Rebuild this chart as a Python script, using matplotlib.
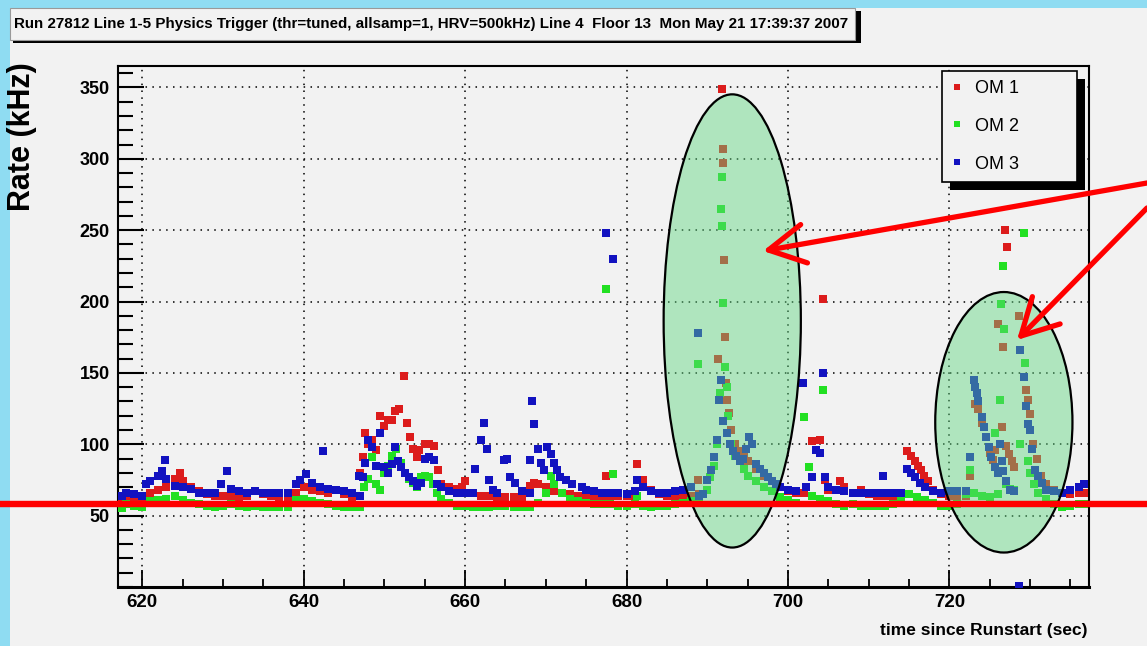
import matplotlib
matplotlib.use("Agg")
import matplotlib.pyplot as plt
import numpy as np
from matplotlib.patches import Ellipse, Rectangle
from matplotlib.lines import Line2D
from matplotlib.ticker import MultipleLocator

plt.rcParams['font.family'] = ['Liberation Sans', 'DejaVu Sans']

title = "Run 27812 Line 1-5 Physics Trigger (thr=tuned, allsamp=1, HRV=500kHz) Line 4  Floor 13  Mon May 21 17:39:37 2007"
series_names = ["OM 1", "OM 2", "OM 3"]
series_colors = ["#dc1c1c", "#22e022", "#1212c0"]

# (time [s], rate [kHz])
om1_points = [
    (617.5, 62), (618, 63), (619, 62), (620, 62), (621, 66), (622, 68), (623, 70), (624, 76),
    (624.7, 80), (625, 74), (626, 70), (627, 67), (628, 65), (629, 64), (630, 64), (631, 64),
    (632, 63), (633, 64), (634, 67), (635, 65), (636, 64), (637, 63), (638, 63), (639, 66),
    (640, 70), (641, 68), (642, 67), (643, 66), (644, 68), (645, 65), (646, 63), (647, 80),
    (647.3, 91), (647.6, 108), (648, 100), (648.5, 103), (649, 96), (649.5, 120), (650, 113),
    (650.5, 117), (651, 117), (651.3, 123), (651.8, 125), (652.4, 148), (652.8, 115),
    (653.2, 105), (653.6, 97), (654, 91), (654.3, 96), (655, 100), (655.5, 100), (656.2, 99),
    (656.6, 82), (657, 72), (658, 70), (659, 69), (659.6, 70), (660, 74), (661, 66), (662, 64),
    (663, 64), (664, 63), (665, 63), (666, 63), (667, 63), (668, 71), (668.5, 73), (669, 72),
    (670, 70), (671, 67), (672, 66), (673, 65), (674, 64), (675, 64), (676, 64), (677, 64),
    (677.4, 78), (678, 64), (679, 64), (680, 64), (681, 64), (681.3, 86), (682, 75), (683, 68),
    (684, 65), (685, 64), (686, 64), (687, 64), (688, 64), (688.8, 75), (689, 65), (690, 68),
    (691.2, 103), (691.3, 160), (691.8, 349), (691.9, 307), (692, 297), (692.1, 229),
    (692.2, 175), (692.3, 143), (692.5, 131), (692.7, 122), (693, 110), (693.5, 100),
    (694, 95), (694.5, 92), (695, 88), (696, 83), (697, 78), (698, 74), (699, 70), (700, 67),
    (701, 66), (702, 66), (703, 102), (704, 103), (704.3, 202), (704.6, 75), (705, 68),
    (706, 68), (706.5, 74), (707, 70), (708, 66), (709, 68), (710, 65), (711, 64), (712, 64),
    (713, 64), (714, 66), (714.8, 95), (715.3, 92), (715.7, 88), (716.1, 85), (716.5, 82),
    (716.9, 78), (717.4, 74), (718, 68), (719, 65), (720, 64), (721, 64), (722, 64),
    (722.6, 78), (723.2, 128), (723.5, 125), (724, 115), (725, 94), (725.4, 89), (725.6, 96),
    (726, 184), (726.5, 112), (726.7, 168), (726.9, 250), (727.1, 238), (727, 99), (727.4, 93),
    (727.7, 88), (728, 84), (728.6, 190), (729.5, 138), (729.8, 131), (730, 121), (730.4, 100),
    (730.8, 90), (731.3, 78), (732, 72), (733, 68), (734, 66), (735, 65), (736, 66), (736.7, 66),
]

om2_points = [
    (617.5, 55), (618, 58), (619, 57), (620, 56), (621, 60), (622, 61), (623, 62), (624, 64),
    (625, 61), (626, 59), (627, 58), (628, 57), (629, 56), (630, 57), (631, 58), (632, 57),
    (633, 56), (634, 57), (635, 56), (636, 56), (637, 56), (638, 56), (639, 61), (640, 62),
    (641, 60), (642, 59), (643, 58), (644, 57), (645, 56), (646, 56), (647, 56), (647.5, 70),
    (648, 76), (648.5, 91), (649, 72), (649.5, 68), (650, 80), (650.5, 85), (651, 92),
    (651.5, 97), (652, 87), (652.5, 80), (653, 76), (653.5, 73), (654, 70), (654.5, 77),
    (655, 78), (655.5, 77), (656, 72), (656.5, 66), (657, 62), (658, 59), (659, 57), (660, 57),
    (661, 56), (662, 56), (663, 56), (664, 57), (665, 57), (666, 56), (667, 56), (668, 56),
    (669, 59), (670, 66), (670.6, 78), (671, 72), (672, 66), (673, 62), (674, 60), (675, 59),
    (676, 58), (677, 58), (677.4, 209), (678, 58), (678.3, 79), (679, 57), (680, 57), (681, 58),
    (681.3, 64), (682, 57), (683, 56), (684, 57), (685, 57), (686, 58), (687, 59), (688, 60),
    (688.8, 156), (689, 61), (690, 68), (690.3, 77), (690.8, 85), (691.2, 100), (691.6, 136),
    (691.7, 265), (691.8, 287), (691.85, 253), (692, 199), (692.2, 154), (692.4, 140),
    (692.6, 120), (693, 100), (693.5, 92), (694, 88), (694.5, 83), (695, 78), (696, 74),
    (697, 70), (698, 67), (699, 63), (700, 61), (701, 59), (702, 119), (702.6, 84), (703, 64),
    (704, 62), (704.3, 138), (705, 60), (706, 58), (707, 57), (708, 58), (709, 57), (710, 57),
    (711, 57), (712, 57), (713, 58), (714, 61), (715, 65), (716, 63), (717, 61), (718, 59),
    (719, 57), (720, 57), (721, 58), (722, 65), (722.6, 82), (723, 66), (724, 64), (725, 63),
    (725.7, 108), (726, 65), (726.3, 131), (726.4, 198), (726.6, 225), (726.8, 181), (727, 72),
    (727.5, 69), (728, 68), (728.7, 100), (729.2, 248), (729.4, 157), (729.8, 88), (730, 80),
    (730.5, 72), (731, 66), (732, 62), (733, 58), (734, 56), (735, 57), (736, 58), (736.7, 58),
]

om3_points = [
    (617.5, 64), (618, 66), (619, 65), (620, 64), (620.5, 72), (621, 74), (622, 78), (622.5, 81),
    (622.8, 89), (623, 76), (624, 71), (625, 70), (626, 69), (627, 66), (628, 66), (629, 66),
    (629.7, 72), (630.5, 81), (631, 69), (632, 67), (633, 66), (634, 67), (635, 66), (636, 66),
    (637, 66), (638, 66), (639, 72), (639.5, 75), (640.3, 79), (641, 73), (642, 70), (642.4, 95),
    (643, 69), (644, 68), (645, 67), (646, 66), (646.8, 78), (647, 64), (647.3, 77), (647.6, 87),
    (648, 103), (648.5, 98), (649, 85), (649.5, 108), (650, 84), (650.5, 80), (651, 86),
    (651.3, 98), (651.7, 88), (652, 84), (652.5, 80), (653, 77), (653.5, 74), (654, 71),
    (654.5, 73), (655, 90), (655.5, 91), (656.2, 89), (656.5, 72), (657, 70), (658, 67),
    (659, 66), (660, 66), (661, 66), (661.2, 83), (662, 103), (662.3, 115), (662.7, 97),
    (663, 75), (663.5, 68), (664, 66), (664.8, 89), (665.2, 90), (665.6, 77), (666.2, 73),
    (667, 67), (668, 66), (668.1, 89), (668.3, 130), (668.6, 114), (669, 97), (669.4, 87),
    (669.8, 82), (670.2, 98), (670.6, 93), (671, 87), (671.4, 82), (671.8, 77), (672.5, 75),
    (673.3, 72), (674.5, 70), (675, 68), (676, 67), (677, 66), (677.4, 248), (678, 66),
    (678.3, 230), (679, 66), (680, 65), (681, 67), (681.3, 75), (682, 70), (683, 67), (684, 66),
    (685, 66), (686, 67), (687, 68), (688, 70), (688.8, 178), (689, 64), (689.5, 65), (690, 75),
    (690.5, 82), (690.8, 91), (691.2, 103), (691.5, 131), (691.7, 145), (692, 116),
    (692.4, 108), (692.8, 100), (693.2, 95), (693.6, 92), (694, 88), (694.4, 90), (694.8, 97),
    (695.2, 105), (695.6, 100), (696, 86), (696.5, 83), (697, 80), (697.5, 77), (698, 74),
    (698.5, 72), (699, 70), (700, 68), (701, 67), (701.9, 143), (702.3, 70), (703, 77),
    (703.5, 96), (704, 94), (704.3, 150), (704.6, 77), (705, 70), (706, 68), (707, 67),
    (708, 66), (709, 66), (710, 66), (711, 66), (711.8, 78), (712, 66), (713, 66), (714, 66),
    (714.8, 83), (715.3, 80), (715.8, 77), (716.4, 73), (717, 70), (718, 67), (719, 66),
    (720, 67), (721, 67), (722, 67), (722.6, 91), (723, 145), (723.2, 140), (723.4, 136),
    (723.6, 130), (724, 119), (724.3, 112), (724.6, 105), (724.9, 98), (725.2, 91), (725.6, 84),
    (726, 80), (726.3, 100), (726.5, 88), (726.7, 81), (727, 74), (727.5, 68), (728, 67),
    (728.6, 1), (728.7, 166), (729.3, 147), (729.5, 127), (729.8, 114), (730, 110), (730.3, 97),
    (730.6, 82), (731, 78), (731.5, 73), (732, 68), (733, 67), (734, 66), (735, 68), (736, 70),
    (736.7, 72),
]

W, H = 1147, 646


def fx(px):
    return px / W


def fy(py):
    return 1 - py / H


fig = plt.figure(figsize=(W / 100, H / 100), dpi=100, facecolor='#8fdcf2')
# light panel over the blue background
fig.add_artist(Rectangle((fx(10), 0), 1 - fx(10), fy(8), transform=fig.transFigure,
                         facecolor='#f2f2f2', edgecolor='none', zorder=0))

ax = fig.add_axes([fx(118), fy(587), fx(1089) - fx(118), fy(66) - fy(587)])
ax.set_facecolor('#f2f2f2')

for pts, name, col in zip([om1_points, om2_points, om3_points], series_names, series_colors):
    t, r = np.array(pts).T
    ax.plot(t, r, linestyle='none', marker='s', markersize=6, markeredgewidth=0,
            color=col, label=name, zorder=3)

ax.set_xlim(617.0, 737.3)
ax.set_ylim(0, 365)
ax.xaxis.set_major_locator(MultipleLocator(20))
ax.xaxis.set_minor_locator(MultipleLocator(5))
ax.yaxis.set_major_locator(MultipleLocator(50))
ax.yaxis.set_minor_locator(MultipleLocator(10))
ax.set_yticks([50, 100, 150, 200, 250, 300, 350])
ax.grid(True, which='major', color='black', linestyle=(0, (1, 3.5)), linewidth=1.1, zorder=1)
ax.tick_params(axis='y', which='major', direction='in', length=19, width=1.5, pad=6,
               labelsize=13)
ax.tick_params(axis='y', which='minor', direction='in', length=11, width=1.5)
ax.tick_params(axis='x', which='major', direction='in', length=12, width=1.3, pad=5,
               labelsize=13.5)
ax.tick_params(axis='x', which='minor', direction='in', length=6, width=1.3)
for lab in ax.get_xticklabels() + ax.get_yticklabels():
    lab.set_fontweight('bold')
for s in ax.spines.values():
    s.set_linewidth(1.5)
ax.spines['bottom'].set_linewidth(2.2)

fig.text(fx(22), fy(62), "Rate (kHz)", rotation=90, ha='center', va='top', fontsize=22,
         fontweight='bold')
fig.text(fx(1088), fy(631), "time since Runstart (sec)", ha='right', va='center',
         fontsize=12.5, fontweight='bold')

# highlighted regions
for (cx, cy, w, h) in [(693.1, 186.4, 17.0, 317.5), (726.75, 115.4, 17.0, 182.5)]:
    ax.add_patch(Ellipse((cx, cy), w, h, facecolor=(0.37, 0.84, 0.50, 0.45),
                         edgecolor='black', linewidth=1.6, zorder=4))

# legend with black shadow
leg = ax.legend(loc='upper left',
                bbox_to_anchor=(fx(942), fy(71) - 0.01, fx(1077) - fx(942), 0.01),
                bbox_transform=fig.transFigure, mode='expand', frameon=True, fancybox=False,
                fontsize=13, markerscale=0.7, handlelength=0.7, handletextpad=0.63,
                labelspacing=1.15, borderpad=0.5, borderaxespad=0)
leg.get_frame().set_edgecolor('black')
leg.get_frame().set_linewidth(1.2)
leg.get_frame().set_facecolor('#f2f2f2')
leg.get_frame().set_alpha(1)
leg.set_zorder(10)

# title box
fig.add_artist(Rectangle((fx(13), fy(43)), fx(858) - fx(10), fy(8) - fy(40), transform=fig.transFigure,
                         facecolor='black', edgecolor='none', zorder=5))
fig.add_artist(Rectangle((fx(10), fy(40)), fx(855) - fx(10), fy(8) - fy(40), transform=fig.transFigure,
                         facecolor='#f2f2f2', edgecolor='#999999', linewidth=0.8, zorder=6))
fig.text(fx(14), fy(24), title, ha='left', va='center', fontsize=10.9, fontweight='bold', zorder=7)

# annotations: red reference line and arrows
fig.add_artist(Line2D([0, 1], [fy(504), fy(504)], transform=fig.transFigure, color='#ff0000',
                      linewidth=4.6, zorder=20))
for (x0, y0, x1, y1) in [(1147, 183, 763, 251), (1147, 208, 1017, 340)]:
    ax.annotate("", xy=(x1, H - y1), xycoords='figure pixels', xytext=(x0, H - y0),
                textcoords='figure pixels',
                arrowprops=dict(arrowstyle='->,head_length=1.3,head_width=0.7', color='#ff0000',
                                lw=3.8, shrinkA=0, shrinkB=0, mutation_scale=20),
                annotation_clip=False, zorder=20)

fig.canvas.draw()
bb = leg.get_window_extent()
ax.add_patch(Rectangle((bb.x0 + 8, bb.y0 - 8), bb.width, bb.height, transform=None,
                       facecolor='black', edgecolor='none', zorder=9, clip_on=False))

fig.savefig("out.png", dpi=100, facecolor=fig.get_facecolor())
